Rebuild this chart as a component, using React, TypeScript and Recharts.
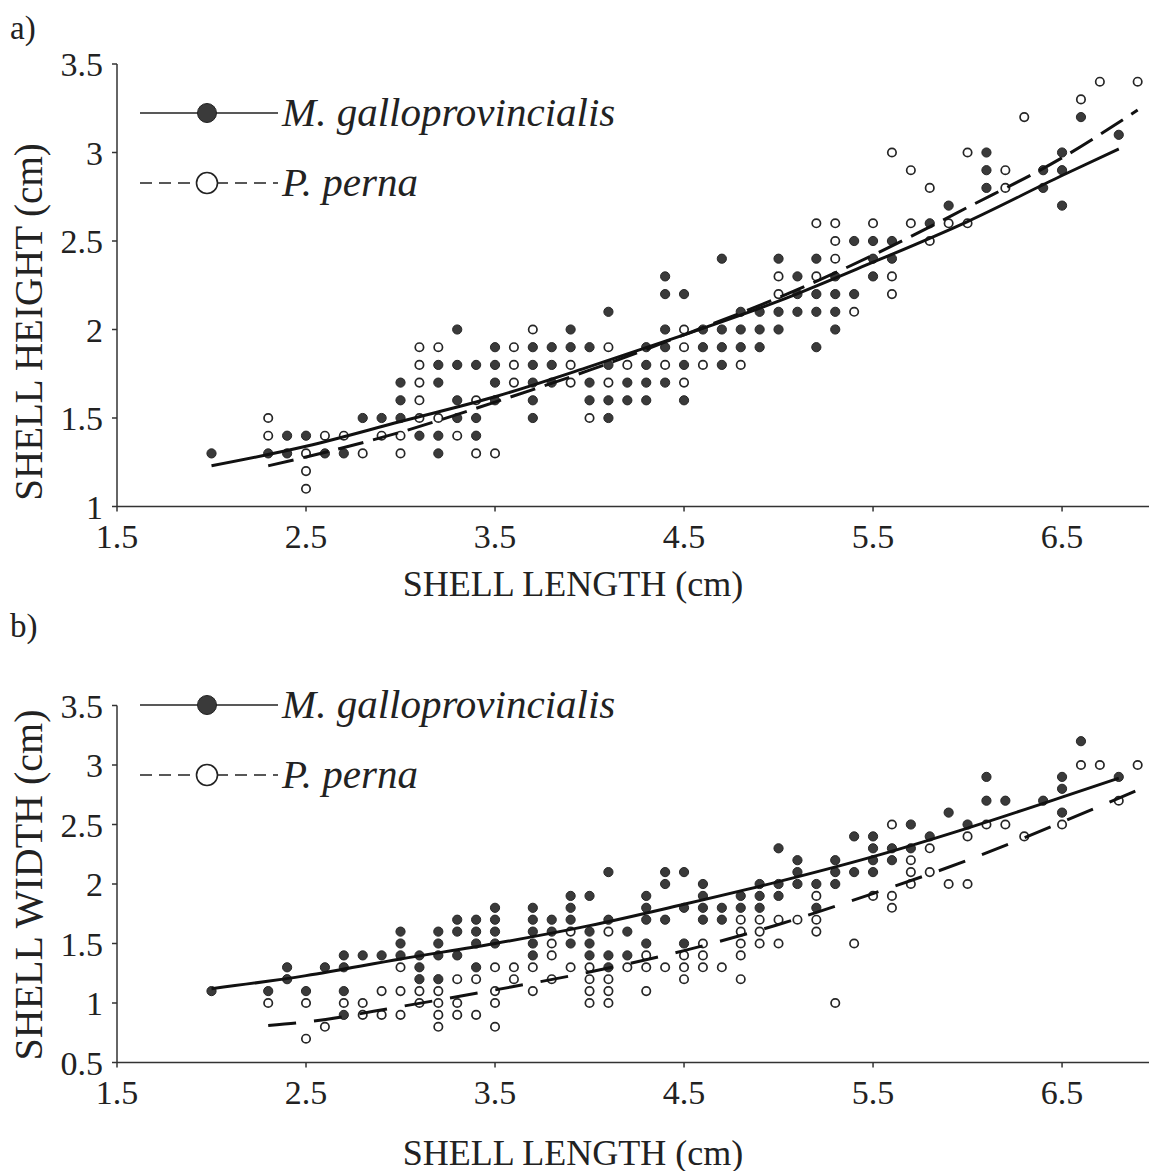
import React from 'react'
import { ScatterChart, Scatter, XAxis, YAxis, Legend } from 'recharts'

const FONT = "'Liberation Serif', 'Times New Roman', serif"
const INK = '#222'

const speciesNames = ['M. galloprovincialis', 'P. perna']
const lengthTicks = [1.5, 2.5, 3.5, 4.5, 5.5, 6.5]
const heightTicks = [1, 1.5, 2, 2.5, 3, 3.5]
const widthTicks = [0.5, 1, 1.5, 2, 2.5, 3, 3.5]

// measurements grouped by length class: [length, values at that length]
const heightGallo: [number, number[]][] = [
  [2.0, [1.3]], [2.3, [1.3]], [2.4, [1.4, 1.3]], [2.5, [1.4]], [2.6, [1.3]],
  [2.7, [1.3]], [2.8, [1.5]], [2.9, [1.5]], [3.0, [1.7, 1.6, 1.5]], [3.1, [1.4]],
  [3.2, [1.8, 1.7, 1.4, 1.3]], [3.3, [2.0, 1.8, 1.6, 1.5]], [3.4, [1.8, 1.5, 1.4]],
  [3.5, [1.9, 1.8, 1.7, 1.6]], [3.7, [1.9, 1.8, 1.7, 1.6, 1.5]], [3.8, [1.9, 1.8, 1.7]],
  [3.9, [2.0, 1.9]], [4.0, [1.9, 1.7, 1.6]], [4.1, [2.1, 1.8, 1.6, 1.5]], [4.2, [1.7, 1.6]],
  [4.3, [1.9, 1.8, 1.7, 1.6]], [4.4, [2.3, 2.2, 2.0, 1.9, 1.7]], [4.5, [2.2, 1.8, 1.6]],
  [4.6, [2.0, 1.9]], [4.7, [2.4, 2.0, 1.9, 1.8]], [4.8, [2.1, 2.0, 1.9]], [4.9, [2.1, 2.0, 1.9]],
  [5.0, [2.4, 2.1, 2.0]], [5.1, [2.3, 2.2, 2.1]], [5.2, [2.4, 2.2, 2.1, 1.9]],
  [5.3, [2.3, 2.2, 2.1, 2.0]], [5.4, [2.5, 2.2]], [5.5, [2.5, 2.4, 2.3]], [5.6, [2.5, 2.4]],
  [5.8, [2.6]], [5.9, [2.7]], [6.1, [3.0, 2.9, 2.8]], [6.4, [2.9, 2.8]],
  [6.5, [3.0, 2.9, 2.7]], [6.6, [3.2]], [6.8, [3.1]],
]

const heightPerna: [number, number[]][] = [
  [2.3, [1.5, 1.4]], [2.5, [1.3, 1.2, 1.1]], [2.6, [1.4]], [2.7, [1.4]], [2.8, [1.3]],
  [2.9, [1.4]], [3.0, [1.4, 1.3]], [3.1, [1.9, 1.8, 1.7, 1.6, 1.5]], [3.2, [1.9, 1.5]],
  [3.3, [1.4]], [3.4, [1.6, 1.3]], [3.5, [1.3]], [3.6, [1.9, 1.8, 1.7]], [3.7, [2.0]],
  [3.9, [1.8, 1.7]], [4.0, [1.5]], [4.1, [1.9, 1.7]], [4.2, [1.8]], [4.4, [1.8]],
  [4.5, [2.0, 1.9, 1.7]], [4.6, [1.8]], [4.8, [1.8]], [5.0, [2.3, 2.2]], [5.2, [2.6, 2.3]],
  [5.3, [2.6, 2.5, 2.4]], [5.4, [2.1]], [5.5, [2.6]], [5.6, [3.0, 2.3, 2.2]],
  [5.7, [2.9, 2.6]], [5.8, [2.8, 2.5]], [5.9, [2.6]], [6.0, [3.0, 2.6]], [6.2, [2.9, 2.8]],
  [6.3, [3.2]], [6.6, [3.3]], [6.7, [3.4]], [6.9, [3.4]],
]

const widthGallo: [number, number[]][] = [
  [2.0, [1.1]], [2.3, [1.1]], [2.4, [1.3, 1.2]], [2.5, [1.1]], [2.6, [1.3]],
  [2.7, [1.4, 1.3, 1.1, 0.9]], [2.8, [1.4]], [2.9, [1.4]], [3.0, [1.6, 1.5, 1.4]],
  [3.1, [1.4, 1.3, 1.2]], [3.2, [1.6, 1.5, 1.4, 1.2]], [3.3, [1.7, 1.6, 1.4]],
  [3.4, [1.7, 1.6, 1.5, 1.3]], [3.5, [1.8, 1.7, 1.6, 1.5]], [3.7, [1.8, 1.7, 1.6, 1.5, 1.4]],
  [3.8, [1.7, 1.6]], [3.9, [1.9, 1.8, 1.7, 1.5]], [4.0, [1.9, 1.6, 1.5, 1.4]],
  [4.1, [2.1, 1.7, 1.4, 1.3]], [4.2, [1.6, 1.4]], [4.3, [1.9, 1.8, 1.7, 1.5]],
  [4.4, [2.1, 2.0, 1.7]], [4.5, [2.1, 1.8, 1.5]], [4.6, [2.0, 1.9, 1.8, 1.7]],
  [4.7, [1.8, 1.7]], [4.8, [1.9, 1.8]], [4.9, [2.0, 1.9, 1.8]], [5.0, [2.3, 2.0, 1.9]],
  [5.1, [2.2, 2.1, 2.0]], [5.2, [2.0, 1.8]], [5.3, [2.2, 2.1, 2.0]], [5.4, [2.4, 2.1]],
  [5.5, [2.4, 2.3, 2.2, 2.1]], [5.6, [2.3, 2.2]], [5.7, [2.5, 2.3]], [5.8, [2.4]],
  [5.9, [2.6]], [6.0, [2.5]], [6.1, [2.9, 2.7]], [6.2, [2.7]], [6.4, [2.7]],
  [6.5, [2.9, 2.8, 2.6]], [6.6, [3.2]], [6.8, [2.9]],
]

const widthPerna: [number, number[]][] = [
  [2.3, [1.0]], [2.5, [1.0, 0.7]], [2.6, [0.8]], [2.7, [1.0]], [2.8, [1.0, 0.9]],
  [2.9, [1.1, 0.9]], [3.0, [1.3, 1.1, 0.9]], [3.1, [1.1, 1.0]], [3.2, [1.1, 1.0, 0.9, 0.8]],
  [3.3, [1.2, 1.0, 0.9]], [3.4, [1.2, 0.9]], [3.5, [1.3, 1.1, 1.0, 0.8]], [3.6, [1.3, 1.2]],
  [3.7, [1.3, 1.1]], [3.8, [1.5, 1.4, 1.2]], [3.9, [1.6, 1.3]], [4.0, [1.3, 1.2, 1.1, 1.0]],
  [4.1, [1.6, 1.2, 1.1, 1.0]], [4.2, [1.3]], [4.3, [1.4, 1.3, 1.1]], [4.4, [1.3]],
  [4.5, [1.4, 1.3, 1.2]], [4.6, [1.5, 1.4, 1.3]], [4.7, [1.3]], [4.8, [1.7, 1.6, 1.5, 1.4, 1.2]],
  [4.9, [1.7, 1.6, 1.5]], [5.0, [1.7, 1.5]], [5.1, [1.7]], [5.2, [1.9, 1.7, 1.6]],
  [5.3, [1.0]], [5.4, [1.5]], [5.5, [1.9]], [5.6, [2.5, 1.9, 1.8]], [5.7, [2.2, 2.1, 2.0]],
  [5.8, [2.3, 2.1]], [5.9, [2.0]], [6.0, [2.4, 2.0]], [6.1, [2.5]], [6.2, [2.5]],
  [6.3, [2.4]], [6.5, [2.5]], [6.6, [3.0]], [6.7, [3.0]], [6.8, [2.7]], [6.9, [3.0]],
]

// fitted regression curves, [length, fitted value]
const heightFitGallo: [number, number][] = [
  [2.0, 1.23], [2.5, 1.34], [3.0, 1.48], [3.5, 1.62], [4.0, 1.79], [4.5, 1.97],
  [5.0, 2.16], [5.5, 2.38], [6.0, 2.61], [6.5, 2.87], [6.8, 3.02],
]
const heightFitPerna: [number, number][] = [
  [2.3, 1.23], [2.5, 1.28], [3.0, 1.42], [3.5, 1.59], [4.0, 1.77], [4.5, 1.97],
  [5.0, 2.18], [5.5, 2.42], [6.0, 2.69], [6.5, 2.97], [6.9, 3.24],
]
const widthFitGallo: [number, number][] = [
  [2.0, 1.12], [2.5, 1.23], [3.0, 1.37], [3.5, 1.5], [4.0, 1.65], [4.5, 1.83],
  [5.0, 2.02], [5.5, 2.23], [6.0, 2.47], [6.5, 2.73], [6.8, 2.89],
]
const widthFitPerna: [number, number][] = [
  [2.3, 0.81], [2.5, 0.84], [3.0, 0.97], [3.5, 1.11], [4.0, 1.26], [4.5, 1.44],
  [5.0, 1.66], [5.5, 1.92], [6.0, 2.2], [6.5, 2.52], [6.9, 2.79],
]

const toPoints = (cols: [number, number[]][]) =>
  cols.flatMap(([x, ys]) => ys.map((y) => ({ x, y })))
const toCurve = (pts: [number, number][]) => pts.map(([x, y]) => ({ x, y }))

const FilledDot = (p: any) => (
  <circle cx={p.cx} cy={p.cy} r={4.6} fill="#3a3a3a" stroke="#262626" strokeWidth={1} />
)
const OpenDot = (p: any) => (
  <circle cx={p.cx} cy={p.cy} r={4.2} fill="#fff" stroke="#262626" strokeWidth={1.7} />
)
const NoDot = () => <g />

const tickStyle = { fontFamily: FONT, fontSize: 34, fill: INK }

// legend rows sit 70px apart; the svg keeps 30px headroom above the first row
const LegendBox = () => (
  <svg width={560} height={135} style={{ display: 'block', overflow: 'visible' }}>
    <line x1={10} x2={148} y1={30} y2={30} stroke={INK} strokeWidth={1.6} />
    <circle cx={77} cy={30} r={9.5} fill="#3a3a3a" stroke={INK} strokeWidth={1} />
    <text x={152} y={43} fontFamily={FONT} fontStyle="italic" fontSize={41} fill={INK}>
      {speciesNames[0]}
    </text>
    <line x1={10} x2={148} y1={100} y2={100} stroke={INK} strokeWidth={1.6} strokeDasharray="12 7" />
    <circle cx={77} cy={100} r={10.5} fill="#fff" stroke={INK} strokeWidth={1.6} />
    <text x={152} y={113} fontFamily={FONT} fontStyle="italic" fontSize={41} fill={INK}>
      {speciesNames[1]}
    </text>
  </svg>
)

type PanelProps = {
  height: number
  top: number
  plotHeight: number
  yTicks: number[]
  yDomain: [number, number]
  yTitle: string
  yTitleCenter: number
  yTitleSize: number
  xTitleBaseline: number
  legendTop: number
  dash: string
  gallo: [number, number[]][]
  perna: [number, number[]][]
  fitGallo: [number, number][]
  fitPerna: [number, number][]
}

function Panel(props: PanelProps) {
  const { height, top, plotHeight } = props
  const xAxisHeight = height - top - plotHeight - 10
  return (
    <ScatterChart
      width={1152}
      height={height}
      margin={{ top, right: 3, left: 0, bottom: 10 }}
    >
      <XAxis
        type="number"
        dataKey="x"
        domain={[1.5, 6.96]}
        ticks={lengthTicks}
        allowDataOverflow
        height={xAxisHeight}
        tick={tickStyle}
        tickSize={5}
        tickMargin={12}
        axisLine={{ stroke: '#333', strokeWidth: 1.5 }}
        tickLine={{ stroke: '#333', strokeWidth: 1.5 }}
        label={(lp: any) => {
          const vb = lp.viewBox
          return (
            <text
              x={573}
              y={vb.y + props.xTitleBaseline}
              textAnchor="middle"
              fontFamily={FONT}
              fontSize={36}
              fill={INK}
            >
              SHELL LENGTH (cm)
            </text>
          )
        }}
      />
      <YAxis
        type="number"
        dataKey="y"
        domain={props.yDomain}
        ticks={props.yTicks}
        allowDataOverflow
        width={117}
        tick={tickStyle}
        tickSize={5}
        tickMargin={9}
        axisLine={{ stroke: '#333', strokeWidth: 1.5 }}
        tickLine={{ stroke: '#333', strokeWidth: 1.5 }}
        label={() => (
          <text
            transform={`translate(42, ${props.yTitleCenter}) rotate(-90)`}
            textAnchor="middle"
            fontFamily={FONT}
            fontSize={props.yTitleSize}
            fill={INK}
          >
            {props.yTitle}
          </text>
        )}
      />
      <Legend
        layout="vertical"
        align="center"
        verticalAlign="middle"
        wrapperStyle={{ left: 130, top: props.legendTop, width: 560 }}
        content={() => <LegendBox />}
      />
      <Scatter
        name={speciesNames[0]}
        data={toPoints(props.gallo)}
        shape={FilledDot}
        isAnimationActive={false}
      />
      <Scatter
        name={speciesNames[1]}
        data={toPoints(props.perna)}
        shape={OpenDot}
        isAnimationActive={false}
      />
      <Scatter
        data={toCurve(props.fitGallo)}
        line={{ stroke: '#111', strokeWidth: 3 }}
        lineJointType="monotoneX"
        shape={NoDot}
        legendType="none"
        isAnimationActive={false}
      />
      <Scatter
        data={toCurve(props.fitPerna)}
        line={{ stroke: '#111', strokeWidth: 3, strokeDasharray: props.dash }}
        lineJointType="monotoneX"
        shape={NoDot}
        legendType="none"
        isAnimationActive={false}
      />
    </ScatterChart>
  )
}

export default function App() {
  const panelLabel = (text: string, top: number) => (
    <div
      style={{
        position: 'absolute',
        left: 10,
        top,
        fontFamily: FONT,
        fontSize: 33,
        color: INK,
        lineHeight: 1,
      }}
    >
      {text}
    </div>
  )
  return (
    <div
      style={{
        position: 'absolute',
        left: 0,
        top: 0,
        width: 1152,
        height: 1171,
        background: '#fff',
        overflow: 'hidden',
      }}
    >
      {panelLabel('a)', 12)}
      {panelLabel('b)', 610)}
      <div style={{ position: 'absolute', left: 0, top: 0 }}>
        <Panel
          height={620}
          top={64}
          plotHeight={442.5}
          yTicks={heightTicks}
          yDomain={[1, 3.5]}
          yTitle="SHELL HEIGHT (cm)"
          yTitleCenter={322}
          yTitleSize={39}
          xTitleBaseline={89}
          legendTop={83}
          dash="26 10"
          gallo={heightGallo}
          perna={heightPerna}
          fitGallo={heightFitGallo}
          fitPerna={heightFitPerna}
        />
      </div>
      <div style={{ position: 'absolute', left: 0, top: 620 }}>
        <Panel
          height={551}
          top={85.5}
          plotHeight={357}
          yTicks={widthTicks}
          yDomain={[0.5, 3.5]}
          yTitle="SHELL WIDTH (cm)"
          yTitleCenter={265}
          yTitleSize={40}
          xTitleBaseline={102}
          legendTop={55}
          dash="28 18"
          gallo={widthGallo}
          perna={widthPerna}
          fitGallo={widthFitGallo}
          fitPerna={widthFitPerna}
        />
      </div>
    </div>
  )
}
